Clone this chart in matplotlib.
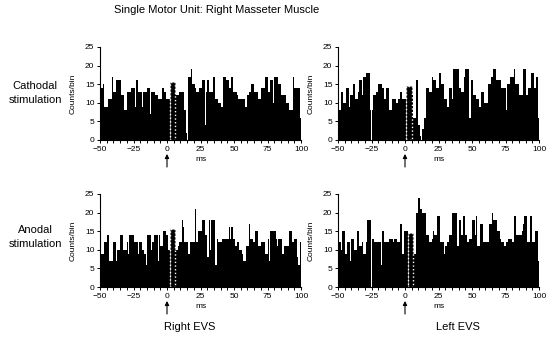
import matplotlib.pyplot as plt
import numpy as np

plt.rcParams['font.family'] = ['Liberation Sans', 'DejaVu Sans']

# 1 ms bins, -50 .. 99 ms (bin starts)
ms = np.arange(-50, 100)

# top left: cathodal, right EVS
counts_tl = [14, 14, 15, 9, 9, 9, 11, 11, 11, 17,
             13, 13, 16, 16, 16, 16, 12, 12, 8, 8,
             13, 13, 13, 14, 14, 14, 9, 16, 13, 13,
             13, 9, 13, 13, 13, 14, 14, 7, 13, 13,
             13, 12, 12, 11, 11, 11, 14, 14, 13, 11,
             11, 11, 0, 0, 0, 0, 12, 12, 12, 13,
             13, 13, 13, 8, 2, 0, 17, 17, 19, 15,
             15, 14, 13, 13, 14, 14, 16, 16, 4, 13,
             16, 13, 13, 13, 17, 17, 11, 11, 10, 10,
             9, 9, 17, 17, 16, 16, 14, 14, 17, 13,
             13, 13, 12, 11, 11, 11, 11, 11, 9, 9,
             12, 13, 13, 15, 15, 13, 13, 13, 11, 11,
             14, 14, 14, 17, 17, 13, 13, 16, 16, 10,
             17, 17, 17, 15, 15, 12, 12, 12, 12, 10,
             10, 8, 8, 8, 17, 14, 14, 14, 14, 6]

# top right: cathodal, left EVS
counts_tr = [8, 8, 13, 13, 10, 10, 14, 14, 9, 12,
             12, 15, 15, 11, 11, 13, 16, 16, 12, 17,
             17, 18, 18, 18, 8, 8, 12, 12, 13, 13,
             15, 15, 15, 14, 11, 11, 14, 14, 8, 8,
             11, 11, 11, 10, 10, 11, 13, 13, 11, 11,
             11, 0, 0, 0, 0, 12, 6, 6, 16, 16,
             4, 1, 0, 3, 6, 6, 14, 14, 13, 13,
             17, 16, 16, 14, 14, 18, 18, 15, 15, 11,
             11, 9, 9, 14, 14, 11, 19, 19, 19, 19,
             14, 14, 13, 13, 17, 19, 19, 19, 6, 16,
             16, 12, 12, 11, 11, 9, 9, 13, 13, 10,
             10, 10, 15, 15, 17, 17, 19, 19, 16, 16,
             16, 16, 14, 14, 14, 8, 15, 15, 17, 17,
             17, 19, 15, 15, 15, 12, 12, 12, 19, 19,
             12, 12, 14, 14, 18, 18, 14, 14, 17, 6]

# bottom left: anodal, right EVS
counts_bl = [9, 9, 9, 12, 12, 14, 14, 7, 7, 7,
             12, 12, 7, 10, 10, 14, 14, 10, 10, 10,
             12, 9, 14, 14, 14, 12, 12, 12, 9, 12,
             12, 10, 10, 9, 6, 14, 14, 14, 10, 12,
             14, 14, 14, 7, 14, 11, 11, 15, 15, 14,
             14, 10, 0, 0, 0, 0, 10, 10, 11, 12,
             12, 18, 16, 12, 12, 12, 9, 12, 12, 12,
             12, 21, 12, 15, 15, 15, 18, 18, 14, 14,
             8, 18, 10, 18, 18, 18, 6, 13, 12, 12,
             12, 13, 13, 13, 13, 13, 16, 13, 16, 13,
             13, 11, 12, 12, 10, 10, 9, 7, 7, 11,
             11, 17, 13, 13, 12, 12, 15, 15, 11, 11,
             12, 12, 12, 9, 9, 13, 7, 15, 15, 15,
             15, 13, 11, 13, 13, 13, 9, 11, 11, 11,
             11, 15, 15, 12, 12, 13, 13, 8, 6, 12]

# bottom right: anodal, left EVS
counts_br = [12, 12, 10, 15, 15, 9, 9, 12, 12, 7,
             13, 13, 10, 10, 15, 15, 11, 11, 12, 9,
             9, 12, 18, 18, 18, 13, 13, 12, 12, 12,
             12, 12, 6, 15, 12, 12, 12, 12, 13, 13,
             13, 12, 13, 13, 12, 12, 17, 17, 9, 15,
             15, 15, 0, 0, 0, 0, 9, 9, 20, 20,
             24, 21, 21, 20, 20, 20, 14, 14, 12, 12,
             13, 15, 14, 14, 19, 19, 12, 12, 12, 9,
             11, 12, 12, 14, 14, 20, 20, 20, 20, 11,
             18, 18, 14, 19, 19, 14, 12, 12, 13, 13,
             18, 18, 14, 19, 11, 11, 17, 17, 12, 12,
             12, 12, 12, 17, 17, 20, 18, 18, 18, 15,
             15, 13, 12, 12, 11, 12, 12, 13, 13, 13,
             12, 19, 19, 14, 14, 14, 14, 15, 17, 19,
             19, 12, 12, 19, 19, 12, 12, 15, 15, 7]

# stimulus artefact bins drawn dotted: start (ms), width (ms), height
art_tl = [2, 4, 15.5]
art_tr = [1, 4, 14.5]
art_bl = [2, 4, 15.5]
art_br = [2, 4, 14.5]

fig = plt.figure(figsize=(5.51, 3.42), dpi=100)
W, H = 551.0, 342.0

panels = [
    (counts_tl, art_tl, 100, 140),
    (counts_tr, art_tr, 338, 140),
    (counts_bl, art_bl, 100, 287),
    (counts_br, art_br, 338, 287),
]

for counts, art, x0, y0 in panels:
    ax = fig.add_axes([x0 / W, 1 - y0 / H, 201 / W, 93 / H])
    ax.bar(ms, counts, width=1.0, align='edge', color='black', linewidth=0)
    ax.bar(art[0], art[2], width=art[1], align='edge', color='black',
           edgecolor='white', linestyle=':', linewidth=1.0)
    ax.set_xlim(-50, 100)
    ax.set_ylim(0, 25)
    ax.set_xticks(np.arange(-50, 101, 25))
    ax.set_xticks(np.arange(-50, 101, 5), minor=True)
    ax.set_yticks(np.arange(0, 26, 5))
    ax.tick_params(labelsize=6, length=2.5, width=0.7, pad=1.5)
    ax.tick_params(which='minor', length=2, width=0.7)
    for s in ['top', 'right']:
        ax.spines[s].set_visible(False)
    for s in ['left', 'bottom']:
        ax.spines[s].set_linewidth(0.8)
    ax.set_ylabel('Counts/bin', fontsize=6)
    ax.yaxis.set_label_coords(-0.115, 0.5)
    ax.text(0.5, -0.215, 'ms', transform=ax.transAxes, ha='center',
            va='center', fontsize=6)
    ax.annotate('', xy=(0, -0.12), xytext=(0, -0.32),
                xycoords=ax.get_xaxis_transform(),
                textcoords=ax.get_xaxis_transform(),
                arrowprops=dict(arrowstyle='-|>', color='black', lw=0.8,
                                mutation_scale=6),
                annotation_clip=False)

fig.text(217 / W, 1 - 10 / H, 'Single Motor Unit: Right Masseter Muscle',
         ha='center', va='center', fontsize=8)
fig.text(35 / W, 1 - 93 / H, 'Cathodal\nstimulation', ha='center',
         va='center', fontsize=8, linespacing=1.5)
fig.text(35 / W, 1 - 237 / H, 'Anodal\nstimulation', ha='center',
         va='center', fontsize=8, linespacing=1.5)
fig.text(190 / W, 1 - 327 / H, 'Right EVS', ha='center', va='center',
         fontsize=8)
fig.text(458 / W, 1 - 327 / H, 'Left EVS', ha='center', va='center',
         fontsize=8)

fig.savefig('out.png', dpi=100)
